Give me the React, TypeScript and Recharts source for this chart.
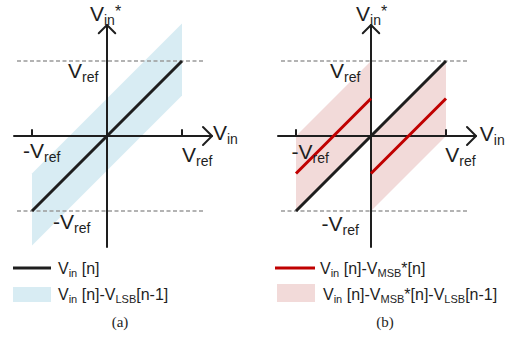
import React from "react";
import {
  ComposedChart,
  Area,
  Line,
  XAxis,
  YAxis,
  ReferenceLine,
  ReferenceDot,
} from "recharts";

// ---------- data ----------
// panel (a)
const xA = [-1, 1];
const idealA = [-1, 1];
const bandALow = [-1.46, 0.54];
const bandAHigh = [-0.5, 1.5];

// panel (b)
const xB = [-1, 0, 0, 1];
const idealB = [-1, 0, 0, 1];
const redLeftB = [-0.5, 0.5, null, null];
const redRightB = [null, null, -0.5, 0.5];
const bandBLow = [-1, 0, -1, 0];
const bandBHigh = [0, 1, 0, 1];

// labels
const legendA = ["Vin[n]", "Vin[n]-VLSB[n-1]"];
const legendB = ["Vin[n]-VMSB*[n]", "Vin[n]-VMSB*[n]-VLSB[n-1]"];
const captions = ["(a)", "(b)"];

const dataA = xA.map((x, i) => ({
  x,
  ideal: idealA[i],
  band: [bandALow[i], bandAHigh[i]],
}));
const dataB = xB.map((x, i) => ({
  x,
  ideal: idealB[i],
  redL: redLeftB[i],
  redR: redRightB[i],
  band: [bandBLow[i], bandBHigh[i]],
}));

// ---------- style / layout ----------
const UNIT = 75;
const CH = 250;
const OY = 136;
const INK = "#1e1e1e";
const BLUE = "#d8ecf3";
const PINK = "#f2dad9";
const RED = "#c00000";
const DASH = "#9a9a9a";
const SANS = "'Liberation Sans', Arial, sans-serif";
const SERIF = "'Liberation Serif', 'Times New Roman', serif";

type Part = { t: string; sub?: boolean; sup?: boolean };

const V_REF: Part[] = [{ t: "V" }, { t: "ref", sub: true }];
const NEG_V_REF: Part[] = [{ t: "-V" }, { t: "ref", sub: true }];
const V_IN: Part[] = [{ t: "V" }, { t: "in", sub: true }];
const V_IN_STAR: Part[] = [{ t: "V" }, { t: "in", sub: true }, { t: "*", sup: true }];

function AxisText({ x, y, parts }: { x: number; y: number; parts: Part[] }) {
  let level = 0;
  return (
    <text x={x} y={y} fill={INK} fontFamily={SANS} fontSize={21}>
      {parts.map((p, i) => {
        const target = p.sub ? 4 : p.sup ? -4 : 0;
        const dy = target - level;
        level = target;
        return (
          <tspan key={i} dy={dy} fontSize={p.sub ? 14 : p.sup ? 16 : 21}>
            {p.t}
          </tspan>
        );
      })}
    </text>
  );
}

type LabelSpec = { x: number; y: number; parts: Part[] };

function Panel({
  left,
  width,
  ox,
  data,
  labels,
  b,
}: {
  left: number;
  width: number;
  ox: number;
  data: any[];
  labels: LabelSpec[];
  b: boolean;
}) {
  const xDom = [-ox / UNIT, (width - ox) / UNIT];
  const yDom = [-(CH - OY) / UNIT, OY / UNIT];
  const axisProps = { stroke: INK, strokeWidth: 2, ifOverflow: "visible" as const };
  return (
    <div style={{ position: "absolute", left, top: 0 }}>
      <ComposedChart
        width={width}
        height={CH}
        data={data}
        margin={{ top: 0, right: 0, bottom: 0, left: 0 }}
        style={{ overflow: "visible" }}
      >
        <XAxis type="number" dataKey="x" domain={xDom} hide allowDataOverflow />
        <YAxis type="number" domain={yDom} hide allowDataOverflow />
        <Area
          type="linear"
          dataKey="band"
          stroke="none"
          fill={b ? PINK : BLUE}
          fillOpacity={1}
          isAnimationActive={false}
          activeDot={false}
          dot={false}
        />
        <ReferenceLine
          segment={[{ x: -1.2, y: 1 }, { x: 1.28, y: 1 }]}
          stroke={DASH}
          strokeWidth={1.5}
          strokeDasharray="4 2.5"
          ifOverflow="visible"
        />
        <ReferenceLine
          segment={[{ x: -1.2, y: -1 }, { x: 1.28, y: -1 }]}
          stroke={DASH}
          strokeWidth={1.5}
          strokeDasharray="4 2.5"
          ifOverflow="visible"
        />
        <ReferenceLine segment={[{ x: -1.25, y: 0 }, { x: 1.4, y: 0 }]} {...axisProps} />
        <ReferenceLine segment={[{ x: 0, y: -1.49 }, { x: 0, y: 1.48 }]} {...axisProps} />
        <ReferenceLine segment={[{ x: 1.28, y: 0.12 }, { x: 1.4, y: 0 }]} {...axisProps} strokeLinecap="round" />
        <ReferenceLine segment={[{ x: 1.28, y: -0.12 }, { x: 1.4, y: 0 }]} {...axisProps} strokeLinecap="round" />
        <ReferenceLine segment={[{ x: -0.11, y: 1.37 }, { x: 0, y: 1.48 }]} {...axisProps} strokeLinecap="round" />
        <ReferenceLine segment={[{ x: 0.11, y: 1.37 }, { x: 0, y: 1.48 }]} {...axisProps} strokeLinecap="round" />
        <ReferenceLine segment={[{ x: -1, y: 0 }, { x: -1, y: 0.09 }]} {...axisProps} />
        <ReferenceLine segment={[{ x: 1, y: 0 }, { x: 1, y: 0.09 }]} {...axisProps} />
        <Line
          type="linear"
          dataKey="ideal"
          stroke={INK}
          strokeWidth={3}
          dot={false}
          activeDot={false}
          isAnimationActive={false}
        />
        {b && (
          <Line
            type="linear"
            dataKey="redL"
            stroke={RED}
            strokeWidth={3}
            dot={false}
            activeDot={false}
            connectNulls={false}
            isAnimationActive={false}
          />
        )}
        {b && (
          <Line
            type="linear"
            dataKey="redR"
            stroke={RED}
            strokeWidth={3}
            dot={false}
            activeDot={false}
            connectNulls={false}
            isAnimationActive={false}
          />
        )}
        {labels.map((l, i) => (
          <ReferenceDot
            key={i}
            x={l.x}
            y={l.y}
            r={0}
            ifOverflow="visible"
            shape={(p: any) => <AxisText x={p.cx} y={p.cy} parts={l.parts} />}
          />
        ))}
      </ComposedChart>
    </div>
  );
}

const labelsA: LabelSpec[] = [
  { x: -0.227, y: 1.533, parts: V_IN_STAR },
  { x: -0.52, y: 0.773, parts: V_REF },
  { x: -1.12, y: -0.293, parts: NEG_V_REF },
  { x: 1.413, y: -0.053, parts: V_IN },
  { x: 1.0, y: -0.347, parts: V_REF },
  { x: -0.72, y: -1.24, parts: NEG_V_REF },
];
const labelsB: LabelSpec[] = [
  { x: -0.2, y: 1.533, parts: V_IN_STAR },
  { x: -0.547, y: 0.773, parts: V_REF },
  { x: -1.06, y: -0.31, parts: NEG_V_REF },
  { x: 1.45, y: -0.06, parts: V_IN },
  { x: 0.99, y: -0.347, parts: V_REF },
  { x: -0.66, y: -1.27, parts: NEG_V_REF },
];

// legend text with subscripts: "Vin" and "VLSB"/"VMSB" parts
function LegendText({ x, y, text }: { x: number; y: number; text: string }) {
  const tokens = text.split(/(Vin|VLSB|VMSB)/).filter((s) => s.length > 0);
  const nodes: React.ReactNode[] = [];
  let level = 0;
  tokens.forEach((tok, i) => {
    if (tok === "Vin" || tok === "VLSB" || tok === "VMSB") {
      nodes.push(
        <tspan key={i + "v"} dy={-level} fontSize={16}>
          V
        </tspan>
      );
      nodes.push(
        <tspan key={i + "s"} dy={3} fontSize={11}>
          {tok.slice(1)}
        </tspan>
      );
      level = 3;
    } else {
      const t = tok.startsWith("[") && i > 0 && tokens[i - 1] === "Vin" ? " " + tok : tok;
      nodes.push(
        <tspan key={i} dy={-level} fontSize={16}>
          {t}
        </tspan>
      );
      level = 0;
    }
  });
  return (
    <text x={x} y={y} fill={INK} fontFamily={SANS} fontSize={16} style={{ whiteSpace: "pre" }}>
      {nodes}
    </text>
  );
}

export default function App() {
  return (
    <div style={{ position: "absolute", left: 0, top: 0, width: 509, height: 337, background: "#fff", overflow: "hidden" }}>
      <Panel left={0} width={250} ox={107} data={dataA} labels={labelsA} b={false} />
      <Panel left={264} width={245} ox={107} data={dataB} labels={labelsB} b={true} />
      <svg width={509} height={337} style={{ position: "absolute", left: 0, top: 0, pointerEvents: "none" }}>
        <line x1={13} x2={51} y1={268} y2={268} stroke={INK} strokeWidth={3} />
        <LegendText x={58} y={274} text={legendA[0]} />
        <rect x={13} y={287} width={38} height={15} fill={BLUE} />
        <LegendText x={58} y={300} text={legendA[1]} />
        <line x1={275} x2={315} y1={268} y2={268} stroke={RED} strokeWidth={3} />
        <LegendText x={320} y={274} text={legendB[0]} />
        <rect x={277} y={284} width={38} height={18} fill={PINK} />
        <LegendText x={323} y={300} text={legendB[1]} />
        <text x={120} y={327} textAnchor="middle" fontFamily={SERIF} fontSize={15} fill={INK}>
          {captions[0]}
        </text>
        <text x={385} y={327} textAnchor="middle" fontFamily={SERIF} fontSize={15} fill={INK}>
          {captions[1]}
        </text>
      </svg>
    </div>
  );
}
